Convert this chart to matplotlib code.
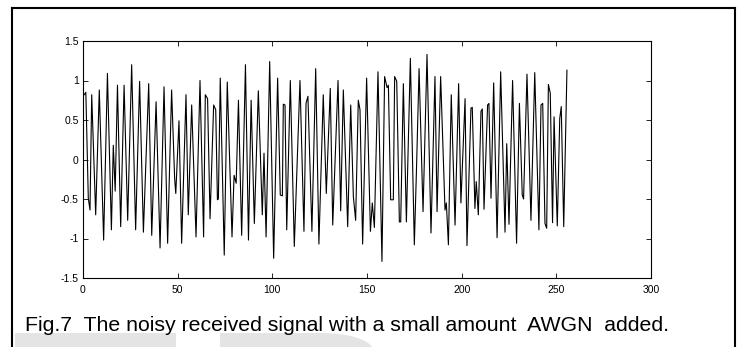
import matplotlib
matplotlib.use("Agg")
import matplotlib.pyplot as plt
from matplotlib.lines import Line2D
from matplotlib.patches import Rectangle, PathPatch
from matplotlib.path import Path

# vertices of the noisy received signal (sample index, amplitude)
sample_idx = [
    0.7, 1.5, 2.8, 3.7, 4.6, 6.7, 8.6, 10.9, 12.9, 15.0, 16.0, 17.0, 18.2, 19.9,
    21.7, 23.6, 25.7, 27.8, 29.9, 31.9, 34.7, 36.3, 38.6, 40.7, 42.8, 44.7, 46.8,
    48.4, 49.0, 50.7, 52.1, 54.4, 55.6, 57.4, 59.7, 61.8, 63.7, 64.6, 65.8, 67.1,
    69.0, 70.1, 71.0, 71.5, 72.5, 74.6, 76.2, 78.7, 79.8, 80.9, 82.1, 83.8, 85.8,
    87.4, 88.8, 90.5, 92.6,
    94.7, 95.6, 96.7, 98.6, 100.7, 102.8, 104.2, 105.3, 105.8, 106.7, 107.6, 109.5,
    111.6, 114.6, 116.7, 117.8, 118.8, 120.9, 122.9, 124.6, 126.9, 128.5, 130.6,
    131.9, 134.7, 136.1, 137.5, 139.8, 141.4,
    142.8, 144.0, 145.4, 146.3, 147.7, 149.8, 151.8, 152.8, 153.9, 155.8, 157.9,
    159.3, 160.6, 161.3, 162.5, 163.9, 164.6, 165.7, 167.1, 167.8, 169.2, 170.8,
    172.9, 175.0, 176.2, 177.5, 179.6, 181.7, 183.8, 185.9, 187.0, 188.9,
    191.2, 191.9, 193.0, 194.5, 196.5, 198.4, 199.6, 201.8, 202.8, 204.9, 205.6,
    207.0, 207.7, 208.8, 210.2, 210.9, 211.8, 213.7, 214.4, 215.5, 216.9, 218.7,
    220.6, 222.9, 223.8, 225.0, 226.9, 229.0, 230.5, 232.0, 232.7, 234.5, 236.6,
    238.6,
    240.8, 241.9, 242.8, 244.0, 244.9, 245.8, 246.8, 248.0, 248.8, 250.5, 251.8,
    252.6, 253.9, 255.6,
]
amplitude = [
    0.82, 0.85, -0.49, -0.64, 0.82, -0.70, 0.88, -1.02, 1.09, -0.89, 0.18, -0.40, 0.94, -0.85,
    0.94, -0.77, 1.20, -0.89, 0.99, -0.92, 0.96, -0.96, 0.73, -1.12, 0.92, -1.06, 0.88,
    -0.24, -0.43, 0.49, -1.06, 0.82, -0.70, 0.69, -0.98, 1.00, -0.98, 0.82, 0.77, -0.75,
    0.69, 0.63, -0.51, -0.50, 1.03, -1.21, 0.98, -0.98, -0.20, -0.30, 0.75, -0.96, 1.20,
    -1.02, 0.75, -0.81, 0.87,
    -0.70, 0.08, -0.98, 1.24, -1.25, 1.03, -0.45, -0.46, 0.70, 0.69, -0.89, 1.00,
    -1.10, 1.00, -0.91, 0.71, 0.80, -0.91, 1.15, -1.07, 0.82, -0.43, 0.90,
    -0.83, 1.00, -0.65, 0.88, -0.85, 0.69,
    -0.47, -0.77, 0.75, 0.63, -1.07, 1.03, -0.91, -0.55, -0.86, 1.11, -1.29,
    1.05, 0.91, 0.94, -0.51, -0.51, 1.05, 0.99, -0.79, -0.79, 0.96, -0.79,
    1.28, -1.08, -0.07, 1.15, -0.66, 1.33, -0.93, 1.05, -0.66, 1.05,
    -0.64, -0.55, -1.08, 0.82, -0.83, 0.96, -0.55, 0.77, -1.09, 0.65, 0.66,
    -0.62, -0.28, -0.70, 0.61, 0.64, -0.63, 0.69, 0.71, -0.49, 0.97, -0.99,
    1.11, -0.92, 0.20, -0.82, 1.00, -1.06, 0.71, -0.45, -0.50, 1.08, -0.77,
    1.10,
    -0.89, 0.69, 0.71, -0.81, -0.87, 0.95, 0.84, -0.80, 0.54, -0.84, 0.52,
    0.67, -0.85, 1.13,
]
caption = "Fig.7  The noisy received signal with a small amount  AWGN  added."

W, H = 743, 347
fig = plt.figure(figsize=(W / 100, H / 100), dpi=100)
ax = fig.add_axes([83 / W, 1 - 278 / H, (651 - 83) / W, (278 - 41) / H])

ax.plot(sample_idx, amplitude, color="black", lw=0.8)
ax.set_xlim(0, 300)
ax.set_ylim(-1.5, 1.5)
ax.set_xticks(range(0, 301, 50))
ax.set_yticks([-1.5, -1, -0.5, 0, 0.5, 1, 1.5])
ax.set_yticklabels(["-1.5", "-1", "-0.5", "0", "0.5", "1", "1.5"])
ax.tick_params(direction="in", length=3.5, width=0.6, top=True, right=True,
               labelsize=7.5, colors="black")
ax.tick_params(axis="x", pad=5)
ax.tick_params(axis="y", pad=3)
for lab in ax.get_xticklabels() + ax.get_yticklabels():
    lab.set_fontfamily("Liberation Sans")
for s in ax.spines.values():
    s.set_linewidth(0.8)

# outer frame of the figure box
def px(x, y):
    return x / W, 1 - y / H

fig.add_artist(Line2D([px(12, 0)[0], px(735, 0)[0]], [px(0, 8)[1]] * 2,
                      transform=fig.transFigure, color="black", lw=1.5))
for xx in (12, 735):
    fig.add_artist(Line2D([px(xx, 0)[0]] * 2, [px(0, 8)[1], 0],
                          transform=fig.transFigure, color="black", lw=1.5))

# faint grey shapes at the bottom
fig.add_artist(Rectangle(px(15, 347), 161 / W, 14 / H, transform=fig.transFigure,
                         color="#e4e4e4", lw=0, zorder=0))
verts = [px(220, 347), px(220, 333), px(320, 333),
         px(350, 333), px(368, 340), px(372, 347), px(220, 347)]
codes = [Path.MOVETO, Path.LINETO, Path.LINETO, Path.CURVE4, Path.CURVE4,
         Path.CURVE4, Path.CLOSEPOLY]
fig.add_artist(PathPatch(Path(verts, codes), transform=fig.transFigure,
                         facecolor="#e4e4e4", lw=0, zorder=0))

fig.text(25 / W, 1 - 331 / H, caption, fontsize=15.3, family="Liberation Sans",
         ha="left", va="baseline")

fig.savefig("out.png", dpi=100)
